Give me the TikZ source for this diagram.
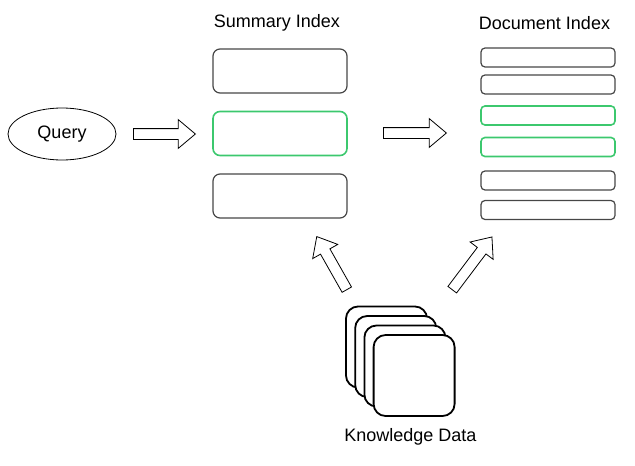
\documentclass[tikz,border=0pt]{standalone}
\usepackage{fontspec}
\setmainfont{Liberation Sans}
\usetikzlibrary{shapes.geometric,shapes.arrows}
\definecolor{hitgreen}{RGB}{60,200,110}
\definecolor{boxgray}{RGB}{70,70,70}
\begin{document}
\begin{tikzpicture}[x=1pt, y=-1pt,
        font=\fontsize{18}{20}\selectfont,
        sumbox/.style={draw=boxgray, line width=1.2pt, rounded corners=7pt, minimum width=134pt, minimum height=44pt},
        docbox/.style={draw=boxgray, line width=1.2pt, rounded corners=4pt, minimum width=134pt, minimum height=19pt},
        hit/.style={draw=hitgreen, line width=1.6pt},
        bigarrow/.style={single arrow, draw, line width=0.8pt, inner sep=5pt, single arrow head extend=9pt, single arrow tip angle=80, anchor=tail},
        card/.style={draw, line width=1.8pt, fill=white, rounded corners=12pt, minimum width=81pt, minimum height=81pt}]
        \useasboundingbox (0,0) rectangle (635,466);
        % Nodes
        \node[ellipse, draw, line width=0.8pt, minimum width=108pt, minimum height=52pt] (query) at (62,134) {Query};
        \node (sumtitle) at (277,23) {Summary Index};
        \node[sumbox] (sum1) at (280,71) {};
        \node[sumbox, hit] (sum2) at (280,133.5) {};
        \node[sumbox] (sum3) at (280,196) {};
        \node (doctitle) at (544.5,23) {Document Index};
        \node[docbox] (doc1) at (548,57.5) {};
        \node[docbox] (doc2) at (548,84.5) {};
        \node[docbox, hit] (doc3) at (548,115.5) {};
        \node[docbox, hit] (doc4) at (548,147) {};
        \node[docbox] (doc5) at (548,180.5) {};
        \node[docbox] (doc6) at (548,210) {};
        % Knowledge data stack
        \foreach \i in {0,...,3}
            \node[card] (card\i) at (386.5+9.2*\i, 347+9.5*\i) {};
        \node (knowledge) at (410.5,437) {Knowledge Data};
        % Arrows
        \node[bigarrow, minimum height=62pt] (qarrow) at (133,134) {};
        \node[bigarrow, minimum height=63pt] (sarrow) at (383,133) {};
        \node[bigarrow, minimum height=61pt, rotate=119.5] (karrow1) at (347,290) {};
        \node[bigarrow, minimum height=66pt, rotate=53] (karrow2) at (452,290) {};
\end{tikzpicture}
\end{document}
